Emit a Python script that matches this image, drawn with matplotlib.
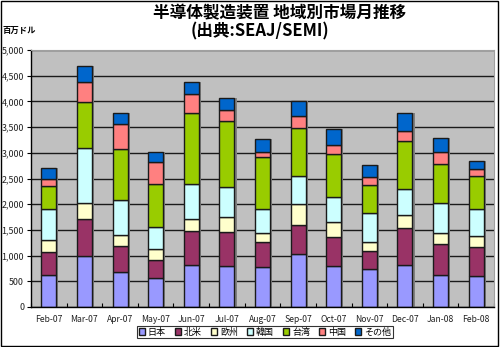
import numpy as np
import matplotlib.pyplot as plt
from matplotlib.ticker import FuncFormatter, FixedLocator

plt.rcParams['font.family'] = ['Noto Sans CJK JP', 'DejaVu Sans']

months = ["Feb-07", "Mar-07", "Apr-07", "May-07", "Jun-07", "Jul-07", "Aug-07",
          "Sep-07", "Oct-07", "Nov-07", "Dec-07", "Jan-08", "Feb-08"]
regions = ["日本", "北米", "欧州", "韓国", "台湾", "中国", "その他"]
colors = ["#9999FF", "#993366", "#FFFFCC", "#CCFFFF", "#99CC00", "#FF8080", "#0066CC"]

japan  = [630, 995, 680, 555, 825, 800, 780, 1040, 800, 735, 810, 630, 605]
na     = [440, 710, 505, 355, 655, 650, 475, 565, 565, 345, 730, 590, 565]
europe = [240, 310, 220, 210, 225, 295, 175, 390, 280, 185, 245, 220, 215]
korea  = [600, 1070, 680, 430, 680, 585, 475, 555, 500, 565, 520, 575, 525]
taiwan = [440, 910, 995, 845, 1395, 1280, 1010, 940, 825, 545, 920, 770, 630]
china  = [145, 380, 485, 435, 360, 215, 110, 235, 190, 145, 200, 235, 140]
other  = [215, 320, 215, 195, 235, 235, 250, 285, 300, 235, 340, 275, 170]

series = [japan, na, europe, korea, taiwan, china, other]

fig = plt.figure(figsize=(5.0, 3.47), dpi=100)
ax = fig.add_axes([31 / 500, 1 - 307 / 347, 463 / 500, 257 / 347])
ax.set_facecolor("#C0C0C0")

x = np.arange(len(months))
w = 0.42
totals = np.sum(series, axis=0)

# shadows
ax.bar(x + 0.06, totals, w, bottom=0, color="#808080", zorder=1.5, linewidth=0)

bottom = np.zeros(len(months))
for vals, col, name in zip(series, colors, regions):
    ax.bar(x, vals, w, bottom=bottom, color=col, edgecolor="#1a1a1a",
           linewidth=1.0, label=name, zorder=2)
    bottom += np.array(vals)

ax.set_xlim(-0.5, len(months) - 0.5)
ax.set_ylim(0, 5000)
ax.set_yticks(np.arange(0, 5001, 500))
ax.yaxis.set_major_formatter(FuncFormatter(lambda v, p: f"{int(v):,}"))
ax.yaxis.grid(True, color="#1a1a1a", linewidth=1.0, zorder=1)
ax.set_axisbelow(True)

ax.set_xticks(x)
ax.set_xticklabels(months)
ax.xaxis.set_minor_locator(FixedLocator(np.arange(-0.5, len(months), 1.0)))
ax.tick_params(axis="x", which="major", length=0, labelsize=6.2, pad=6,
               labelcolor="#222222")
ax.tick_params(axis="x", which="minor", length=3, direction="in", width=0.8)
ax.tick_params(axis="y", length=3, direction="out", labelsize=6.4, pad=2,
               labelcolor="#222222")

for s in ["top", "right"]:
    ax.spines[s].set_color("#a0a0a0")
    ax.spines[s].set_linewidth(0.8)
ax.spines["left"].set_linewidth(1.0)
ax.spines["bottom"].set_linewidth(1.0)

fig.text(0.56, 1 - 13 / 347, "半導体製造装置 地域別市場月推移", ha="center", va="center",
         fontsize=12, fontweight="bold")
fig.text(0.52, 1 - 31 / 347, "(出典:SEAJ/SEMI)", ha="center", va="center",
         fontsize=12, fontweight="bold")
fig.text(0.005, 1 - 30 / 347, "百万ドル", ha="left", va="center", fontsize=6, fontweight="bold")

leg = fig.legend(loc="center", bbox_to_anchor=(265 / 500, 1 - 332 / 347), ncol=7,
                 fontsize=6.5, frameon=True, fancybox=False, handlelength=0.7,
                 handleheight=0.7, handletextpad=0.3, columnspacing=1.0,
                 borderpad=0.15)
leg.get_frame().set_edgecolor("black")
leg.get_frame().set_linewidth(0.8)

# figure border
fig.patches.append(plt.Rectangle((0.002, 0.002), 0.994, 0.996, transform=fig.transFigure,
                                 fill=False, edgecolor="black", linewidth=1.0))

fig.savefig("out.png", dpi=100)
